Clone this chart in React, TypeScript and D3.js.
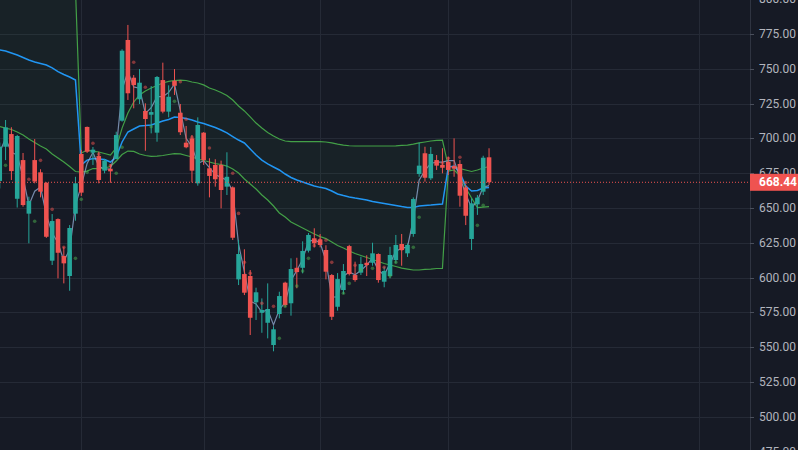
import { useEffect, useRef } from 'react';
import * as d3 from 'd3';

// bar index of the first (partly hidden) candle
const firstBar = -1;

const opens = [
  669.4, 694.0, 703.1, 656.6, 684.4, 645.9, 684.4, 675.6, 668.1, 612.1, 642.0, 615.5, 601.1, 645.9,
  688.8, 708.2, 689.7, 687.3, 676.8, 678.2, 685.2, 712.7, 770.7, 743.6, 728.1, 719.7, 717.0, 704.1,
  741.9, 719.2, 741.4, 718.4, 696.9, 700.0, 667.7, 704.1, 678.5, 680.9, 680.9, 665.3, 664.8, 598.7,
  602.5, 601.1, 582.2, 574.7, 567.5, 551.5, 573.8, 596.3, 581.5, 607.0, 607.0, 619.3, 628.2, 627.4,
  619.8, 601.8, 579.0, 591.0, 622.6, 601.8, 603.5, 610.6, 610.6, 616.9, 597.0, 601.1, 612.6, 624.1,
  617.4, 631.3, 674.4, 689.3, 671.3, 684.4, 680.9, 683.2, 680.1, 681.6, 664.8, 627.7, 652.6, 661.7,
  686.4,
];
const highs = [
  697.0, 713.2, 708.0, 702.5, 689.5, 658.1, 699.5, 677.8, 668.5, 645.6, 642.5, 622.1, 637.7, 672.4,
  691.6, 708.5, 693.8, 690.4, 685.2, 681.4, 704.8, 764.0, 781.5, 745.5, 749.8, 725.2, 737.6, 744.8,
  754.4, 738.1, 749.8, 724.7, 708.9, 702.4, 715.1, 704.5, 685.7, 685.0, 684.0, 690.0, 665.5, 627.0,
  620.3, 605.4, 592.7, 585.0, 595.8, 565.0, 589.8, 597.0, 613.8, 614.2, 626.0, 632.0, 635.4, 631.3,
  623.2, 602.5, 603.2, 609.7, 623.5, 611.4, 615.0, 616.0, 625.0, 617.4, 607.8, 622.1, 630.6, 631.3,
  624.5, 657.6, 696.9, 694.0, 693.8, 688.0, 692.9, 686.8, 700.0, 684.4, 666.5, 656.9, 659.3, 687.5,
  692.9,
];
const lows = [
  664.0, 684.4, 670.1, 650.3, 650.9, 624.6, 667.7, 657.6, 628.5, 609.0, 599.4, 595.8, 590.5, 640.8,
  658.6, 689.5, 680.9, 667.7, 674.9, 668.1, 684.9, 712.0, 727.6, 721.6, 724.7, 691.1, 703.6, 697.6,
  718.0, 715.1, 731.2, 702.4, 692.9, 668.4, 666.0, 680.9, 657.6, 665.3, 649.7, 659.3, 627.0, 594.6,
  587.4, 558.7, 569.5, 560.3, 556.3, 547.0, 570.7, 579.0, 572.6, 592.3, 603.0, 618.0, 621.7, 621.7,
  598.7, 569.5, 576.2, 588.1, 601.5, 597.0, 601.8, 601.1, 608.5, 596.3, 593.0, 599.4, 610.2, 608.5,
  614.8, 629.3, 672.4, 668.9, 670.1, 677.3, 674.9, 673.7, 672.4, 650.9, 637.7, 619.8, 645.0, 659.3,
  666.5,
];
const closes = [
  694.0, 707.9, 676.5, 701.7, 652.1, 655.0, 669.0, 661.7, 629.3, 640.6, 617.8, 610.2, 635.6, 667.7,
  661.0, 690.4, 691.9, 670.1, 684.0, 676.3, 702.4, 763.0, 732.4, 738.3, 740.0, 713.9, 718.9, 744.1,
  719.2, 729.9, 737.8, 704.4, 693.6, 676.8, 709.6, 684.4, 673.0, 670.6, 662.9, 672.4, 628.6, 616.9,
  589.1, 571.1, 589.4, 576.7, 577.4, 562.8, 586.7, 580.2, 606.1, 603.9, 619.1, 630.6, 624.6, 623.4,
  604.2, 571.8, 598.9, 604.7, 602.5, 598.2, 609.7, 609.0, 617.4, 598.2, 604.7, 616.2, 623.4, 619.8,
  623.4, 656.4, 680.4, 671.7, 688.8, 680.4, 678.9, 677.3, 678.2, 658.8, 644.4, 653.3, 657.4, 686.1,
  668.44,
];

// anchored VWAP and its bands, one value per bar
const vwap = [
  763.5, 762.8, 761.3, 759.9, 758.1, 756.3, 754.9, 753.8, 752.7, 750.6, 748.0, 745.9, 744.1, 741.9,
  680.9, 684.4, 685.5, 685.2, 684.8, 683.0, 686.6, 697.4, 704.6, 706.7, 708.9, 709.2, 709.6, 711.0,
  712.5, 713.6, 715.4, 715.0, 714.3, 713.2, 711.8, 710.7, 709.2, 707.8, 706.0, 703.9, 701.3, 698.8,
  696.7, 692.4, 688.0, 684.4, 681.6, 679.4, 677.3, 674.4, 671.9, 670.1, 668.6, 667.2, 665.8, 664.8,
  664.0, 662.2, 660.0, 658.9, 657.9, 657.1, 656.4, 655.7, 654.6, 653.9, 653.2, 652.5, 651.8, 651.0,
  650.3, 650.3, 651.4, 651.8, 652.1, 652.5, 652.8, 679.4, 680.1, 675.1, 665.8, 662.2, 662.5, 664.3,
  664.7,
];
const upperBand = [
  818.5, 818.2, 816.2, 815.2, 813.8, 813.1, 812.8, 813.1, 813.0, 812.4, 810.1, 808.8, 808.4, 807.6,
  689.5, 691.6, 690.9, 690.2, 689.1, 688.0, 693.1, 707.4, 718.2, 726.1, 731.2, 734.0, 736.2, 738.0,
  739.8, 740.9, 741.6, 741.9, 741.6, 740.5, 739.8, 738.4, 736.2, 734.8, 733.0, 730.8, 727.6, 723.3,
  719.7, 715.4, 711.0, 707.4, 704.2, 701.7, 699.5, 698.1, 697.6, 697.6, 697.6, 697.6, 697.7, 697.7,
  697.4, 696.7, 695.9, 695.2, 694.7, 694.5, 694.5, 694.5, 694.5, 694.5, 694.5, 694.5, 694.6, 694.9,
  695.2, 695.9, 696.7, 697.4, 698.1, 698.5, 698.8, 680.1, 679.4, 678.3, 677.3, 676.2, 677.3, 678.7,
  679.8,
];
const lowerBand = [
  708.5, 707.4, 706.4, 704.6, 702.4, 699.5, 697.0, 694.5, 692.4, 688.8, 685.9, 683.0, 679.8, 676.2,
  675.8, 676.5, 678.3, 678.3, 678.7, 679.8, 683.7, 688.4, 690.9, 690.6, 688.8, 687.7, 687.0, 687.3,
  687.7, 688.4, 689.1, 688.8, 687.7, 686.6, 685.2, 684.1, 683.0, 681.9, 681.2, 680.1, 678.0, 675.1,
  670.8, 667.2, 663.6, 659.3, 655.7, 651.4, 646.4, 643.5, 639.9, 637.7, 635.6, 633.4, 631.3, 629.4,
  628.0, 625.5, 623.0, 621.2, 619.1, 617.3, 615.8, 614.4, 613.0, 611.5, 610.1, 609.0, 607.9, 606.8,
  606.1, 605.4, 605.4, 605.8, 606.1, 606.5, 606.6, 676.5, 677.3, 673.0, 664.3, 657.1, 650.2, 650.6,
  651.0,
];

// short moving average
const fastLine = [
  690, 700, 690, 688, 672, 652, 662, 665, 645, 632, 625, 612, 620, 652,
  666, 682, 690, 680, 678, 678, 692, 735, 748, 737, 736, 718, 722, 730,
  730, 733, 739, 720, 700, 694, 682, 684, 679, 674, 672, 670, 662, 624,
  604, 583, 581, 575, 577, 566, 577, 582, 598, 605, 613, 626, 627, 625,
  612, 586, 586, 601, 604, 602, 605, 609, 614, 605, 602, 610, 619, 621,
  622, 642, 670, 677, 682, 683, 683, 684, 684, 672, 660, 650, 655, 665,
  666,
];

// marker dots: bar, price, 1 = green (below) / 0 = red
const dotBars = [
  0, 4, 5, 6, 8, 10, 12, 13, 14, 15, 16, 18, 19, 20, 22, 24, 25, 29, 30, 31, 32, 35, 39, 40, 41, 42,
  44, 46, 47, 48, 50, 51, 52, 53, 54, 55, 56, 58, 59, 60, 61, 62, 63, 65, 66, 67, 68, 70, 71, 75,
  76, 78, 79, 81, 82,
];
const dotValues = [
  680.6, 670.6, 640.4, 684.2, 649.0, 621.7, 613.8, 656.2, 675.6, 696.5, 688.6, 680.4, 674.9, 693.6,
  754.7, 736.7, 708.4, 726.6, 740.7, 713.7, 700.8, 693.1, 674.9, 646.1, 610.9, 603.0, 581.5, 579.3,
  556.3, 579.3, 593.9, 604.7, 613.8, 622.9, 627.0, 626.8, 610.9, 588.7, 595.8, 608.8, 605.4, 609.5,
  606.6, 607.4, 601.1, 610.9, 620.3, 621.7, 643.3, 682.1, 685.7, 686.4, 668.3, 637.5, 651.9,
];
const dotUp = [
  1, 0, 1, 0, 0, 0, 1, 1, 1, 0, 0, 0, 1, 1, 0, 0, 1, 1, 0, 0, 0, 0, 0, 0, 0, 0,
  0, 0, 1, 1, 1, 1, 1, 0, 0, 0, 0, 1, 1, 0, 1, 0, 1, 0, 1, 1, 0, 1, 1, 0,
  0, 0, 0, 1, 1,
];

const monthStarts = [13, 34, 54, 76, 97, 119];
const priceTicks = [475, 500, 525, 550, 575, 600, 625, 650, 675, 700, 725, 750, 775, 800];
const lastPrice = 668.44;

const UP = '#26a69a';
const DOWN = '#ef5350';

const App = () => {
  const chartRef = useRef<SVGSVGElement>(null);

  useEffect(() => {
    if (!chartRef.current) return;
    d3.select(chartRef.current).selectAll('*').remove();

    const width = 798;
    const height = 450;
    const plotRight = 750;

    const svg = d3.select(chartRef.current)
      .attr('width', width)
      .attr('height', height);

    const x = d3.scaleLinear().domain([-0.956, 127.8]).range([0, plotRight]);
    const y = d3.scaleLinear().domain([475, 800]).range([451.5, -0.8]);

    const bars = closes.map((c, k) => ({
      i: firstBar + k,
      o: opens[k], h: highs[k], l: lows[k], c,
    }));

    svg.append('rect')
      .attr('width', width).attr('height', height)
      .attr('fill', '#161a25');

    svg.append('defs').append('clipPath').attr('id', 'plot')
      .append('rect').attr('width', plotRight).attr('height', height);

    // grid
    const grid = svg.append('g').attr('shape-rendering', 'crispEdges');
    grid.selectAll('line.h')
      .data(priceTicks)
      .enter().append('line')
      .attr('x1', 0).attr('x2', plotRight)
      .attr('y1', d => Math.round(y(d)) + 0.5).attr('y2', d => Math.round(y(d)) + 0.5)
      .attr('stroke', '#252a36');
    grid.selectAll('line.v')
      .data(monthStarts)
      .enter().append('line')
      .attr('x1', d => Math.round(x(d)) + 0.5).attr('x2', d => Math.round(x(d)) + 0.5)
      .attr('y1', 0).attr('y2', height)
      .attr('stroke', '#252a36');

    const plot = svg.append('g').attr('clip-path', 'url(#plot)');

    // band fill
    const idx = bars.map(b => b.i);
    const band = d3.area<number>()
      .x((_, k) => x(idx[k]))
      .y0((_, k) => y(lowerBand[k]))
      .y1((_, k) => y(upperBand[k]));
    plot.append('path')
      .attr('d', band(idx))
      .attr('fill', 'rgba(76, 175, 80, 0.06)');

    const seriesLine = (vals: number[]) => d3.line<number>()
      .x((_, k) => x(idx[k]))
      .y(v => y(v))(vals);

    plot.append('path').attr('d', seriesLine(upperBand))
      .attr('fill', 'none').attr('stroke', '#43a047').attr('stroke-width', 1.2);
    plot.append('path').attr('d', seriesLine(lowerBand))
      .attr('fill', 'none').attr('stroke', '#43a047').attr('stroke-width', 1.2);
    plot.append('path').attr('d', seriesLine(vwap))
      .attr('fill', 'none').attr('stroke', '#2196f3').attr('stroke-width', 1.5);
    plot.append('path').attr('d', seriesLine(fastLine))
      .attr('fill', 'none').attr('stroke', 'rgba(150, 175, 215, 0.75)').attr('stroke-width', 1.2);

    // candles
    const bodyW = 4.6;
    const candle = plot.append('g');
    candle.selectAll('line.wick')
      .data(bars)
      .enter().append('line')
      .attr('x1', d => x(d.i)).attr('x2', d => x(d.i))
      .attr('y1', d => y(d.h)).attr('y2', d => y(d.l))
      .attr('stroke', d => (d.c >= d.o ? UP : DOWN))
      .attr('stroke-width', 1);
    candle.selectAll('rect.body')
      .data(bars)
      .enter().append('rect')
      .attr('x', d => x(d.i) - bodyW / 2)
      .attr('width', bodyW)
      .attr('y', d => y(Math.max(d.o, d.c)))
      .attr('height', d => Math.max(1, Math.abs(y(d.o) - y(d.c))))
      .attr('fill', d => (d.c >= d.o ? UP : DOWN));

    // marker dots
    plot.selectAll('circle.dot')
      .data(dotBars)
      .enter().append('circle')
      .attr('cx', d => x(d))
      .attr('cy', (_, k) => y(dotValues[k]))
      .attr('r', 1.8)
      .attr('fill', (_, k) => (dotUp[k] ? '#4caf50' : '#ef5350'))
      .attr('opacity', 0.5);

    // last price line
    svg.append('line')
      .attr('x1', 0).attr('x2', plotRight)
      .attr('y1', y(lastPrice)).attr('y2', y(lastPrice))
      .attr('stroke', DOWN)
      .attr('stroke-width', 1)
      .attr('stroke-dasharray', '1,2');

    // price axis
    const axis = svg.append('g');
    axis.append('line')
      .attr('x1', plotRight + 0.5).attr('x2', plotRight + 0.5)
      .attr('y1', 0).attr('y2', height)
      .attr('stroke', '#2f3441');
    axis.selectAll('line.tick')
      .data(priceTicks)
      .enter().append('line')
      .attr('x1', plotRight).attr('x2', plotRight + 4)
      .attr('y1', d => Math.round(y(d)) + 0.5).attr('y2', d => Math.round(y(d)) + 0.5)
      .attr('stroke', '#4a4f5c');
    axis.selectAll('text.tick')
      .data(priceTicks)
      .enter().append('text')
      .attr('x', 759)
      .attr('y', d => y(d))
      .attr('dominant-baseline', 'central')
      .attr('fill', '#b2b5be')
      .style('font-family', 'Roboto, "Liberation Sans", sans-serif')
      .style('font-size', '12px')
      .text(d => d3.format('.2f')(d));

    axis.append('rect')
      .attr('x', plotRight)
      .attr('y', y(lastPrice) - 8.5)
      .attr('width', width - plotRight)
      .attr('height', 17)
      .attr('fill', DOWN);
    axis.append('text')
      .attr('x', 759)
      .attr('y', y(lastPrice))
      .attr('dominant-baseline', 'central')
      .attr('fill', '#ffffff')
      .style('font-family', 'Roboto, "Liberation Sans", sans-serif')
      .style('font-size', '12px')
      .style('font-weight', 'bold')
      .text(d3.format('.2f')(lastPrice));
  }, []);

  return (
    <div style={{ position: 'fixed', left: 0, top: 0, width: 798, height: 450, overflow: 'hidden' }}>
      <svg ref={chartRef} style={{ display: 'block' }} />
    </div>
  );
};

export default App;
